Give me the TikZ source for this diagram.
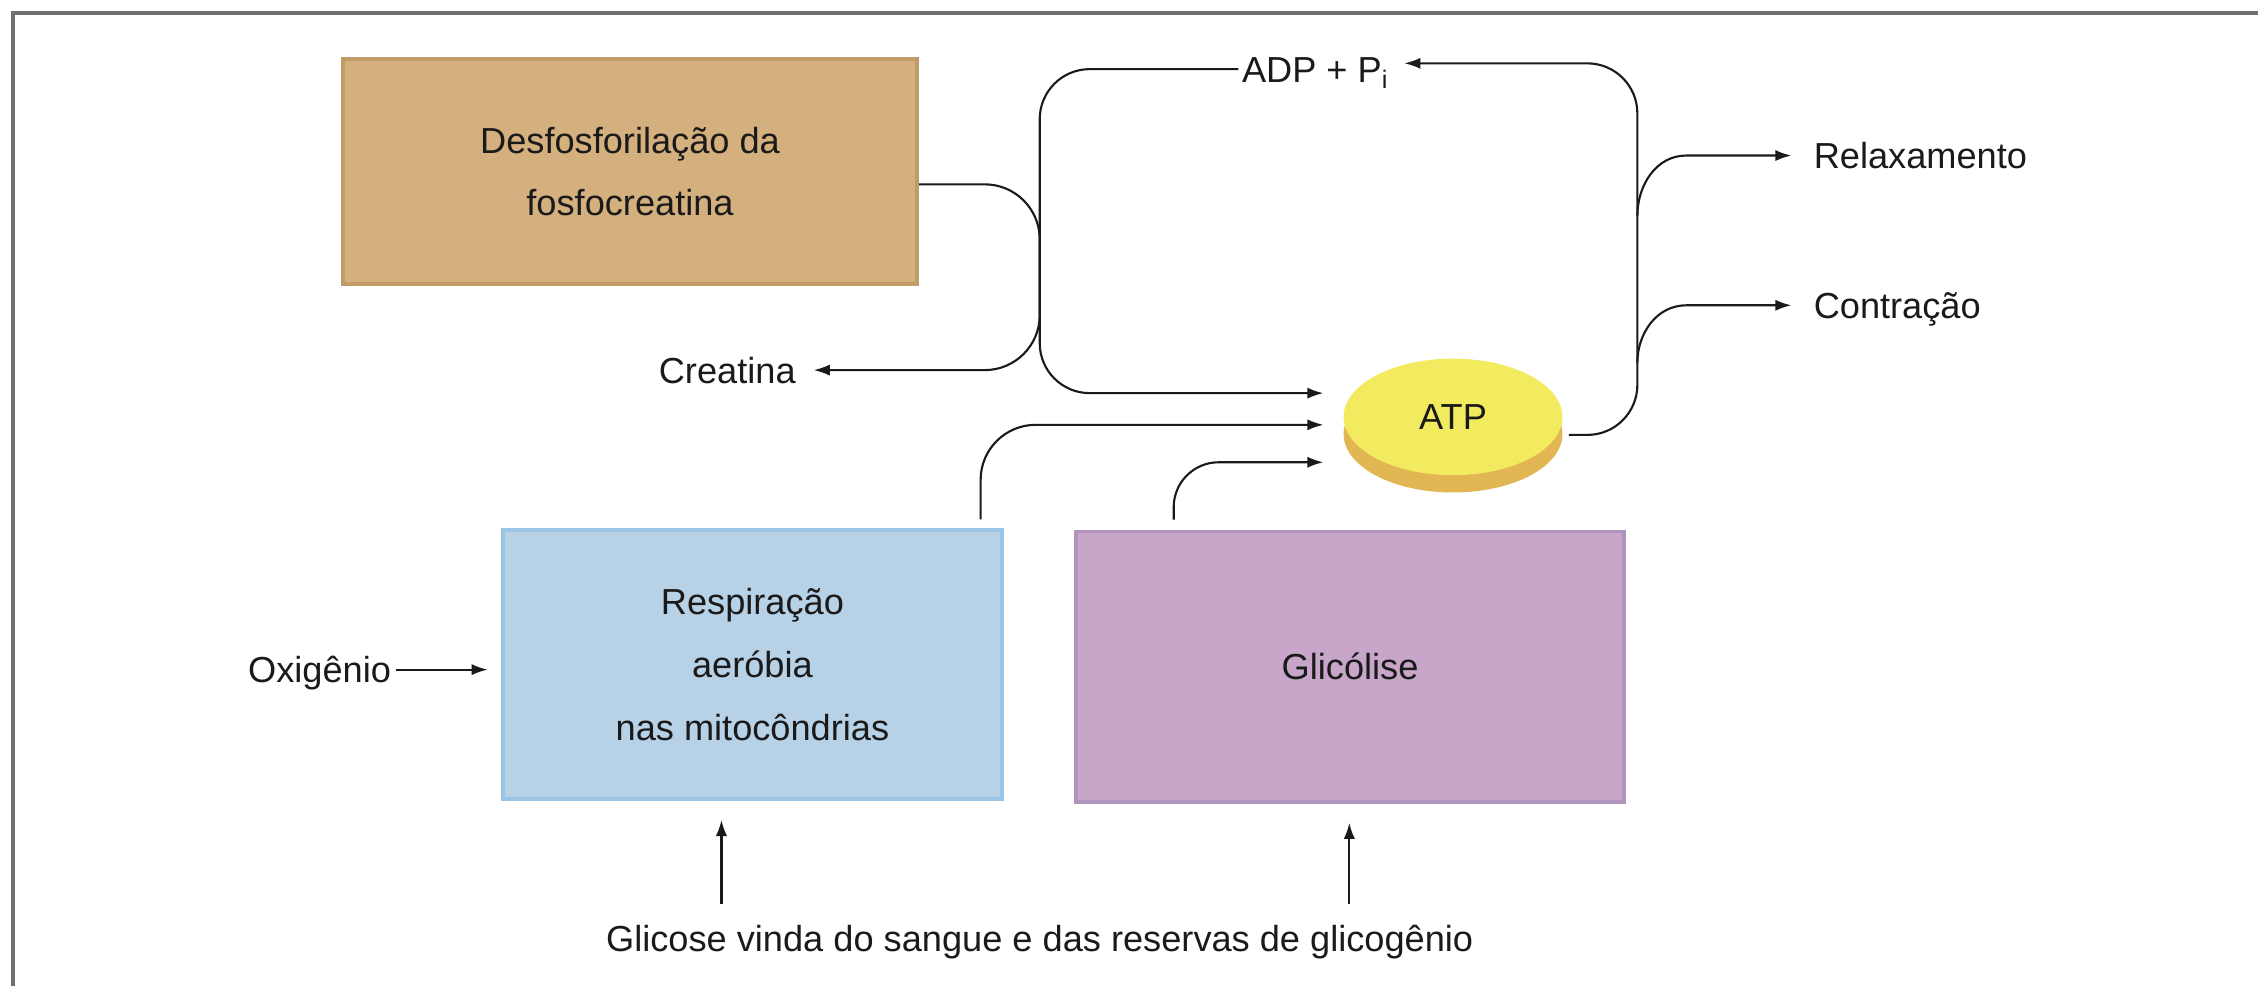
\documentclass[tikz,border=0pt]{standalone}
\usepackage{fontspec}
\setmainfont{Liberation Sans}
\usetikzlibrary{shapes.geometric,arrows.meta,shadows}
\definecolor{brownfill}{HTML}{D3B07E}
\definecolor{browndraw}{HTML}{C29C68}
\definecolor{bluefill}{HTML}{B7D1E6}
\definecolor{bluedraw}{HTML}{9CC4E4}
\definecolor{purpfill}{HTML}{C8A6C9}
\definecolor{purpdraw}{HTML}{B194BE}
\definecolor{atptop}{HTML}{F3EB5F}
\definecolor{atpside}{HTML}{E2B652}
\definecolor{framegray}{HTML}{707070}
\definecolor{ink}{HTML}{1A1A1A}
\begin{document}
\begin{tikzpicture}[x=0.0144cm,y=-0.0144cm,
  txt/.style={font=\fontsize{10.3}{17.8}\selectfont, text=ink},
  lbl/.style={txt, inner sep=0pt, text height=7.4pt, text depth=0pt},
  procbox/.style={txt, rectangle, align=center, line width=1.1pt, inner sep=0pt},
  conn/.style={line width=0.6pt, draw=ink},
  arr/.style={conn, -{Latex[length=4.6pt,width=3.2pt]}},
]
\useasboundingbox (0,0) rectangle (1568,685);
\draw[framegray, line width=1.1pt] (9,685) -- (9,9) -- (1568,9);

% process boxes
\node[procbox, fill=brownfill, draw=browndraw, minimum width=5.746cm, minimum height=2.246cm] (desf) at (437.5,119) {Desfosforilação da\\fosfocreatina};
\node[procbox, fill=bluefill, draw=bluedraw, minimum width=4.997cm, minimum height=2.693cm] (resp) at (522.5,461.5) {Respiração\\aeróbia\\nas mitocôndrias};
\node[procbox, fill=purpfill, draw=purpdraw, minimum width=5.486cm, minimum height=2.707cm] (glic) at (937.5,463) {Glicólise};

% ATP disc
\node[txt, ellipse, fill=atptop, minimum width=2.189cm, minimum height=1.166cm, inner sep=0pt,
      general shadow={fill=atpside, shadow yshift=-0.173cm}] (atp) at (1009,289.5) {ATP};

% labels
\node[lbl, anchor=east] (creat) at (553,257) {Creatina};
\node[lbl, anchor=west] (adp) at (862,48) {ADP + P\textsubscript{i}};
\node[lbl, anchor=west] (relax) at (1259,108) {Relaxamento};
\node[lbl, anchor=west] (contr) at (1259,212) {Contração};
\node[lbl, anchor=east] (oxi) at (272,465) {Oxigênio};
\node[lbl] (glicose) at (722,652) {Glicose vinda do sangue e das reservas de glicogênio};

% free ends
\coordinate (tipA) at (919,273);
\coordinate (tipB) at (919,295);
\coordinate (tipC) at (919,321);
\coordinate (sR) at (1137,150);
\coordinate (sC) at (1137,252);
\coordinate (g1) at (501,628);
\coordinate (g2) at (937,628);

% connectors
\draw[arr, rounded corners=0.55cm, shorten >=0.173cm] ([yshift=-0.13cm]desf.east) -- (722,128) -- (722,257) -- (creat.east);
\draw[arr, rounded corners=0.5cm] ([xshift=-0.03cm]adp.west) -- (722,48) -- (722,273) -- (tipA);
\draw[arr, rounded corners=0.55cm] ([xshift=2.282cm,yshift=0.086cm]resp.north) -- (681,295) -- (tipB);
\draw[arr, rounded corners=0.45cm] ([xshift=-1.764cm,yshift=0.1cm]glic.north) -- (815,321) -- (tipC);
\draw[arr, rounded corners=0.5cm] ([xshift=0.058cm,yshift=-0.18cm]atp.east) -- (1137,302) -- (1137,44) -- ([xshift=0.144cm,yshift=0.058cm]adp.east);
\draw[arr] (sR) to[out=90,in=180] (1171,108) -- ([xshift=-0.216cm]relax.west);
\draw[arr] (sC) to[out=90,in=180] (1171,212) -- ([xshift=-0.216cm]contr.west);
\draw[arr, shorten <=0.043cm, shorten >=0.13cm] (oxi.east) -- (oxi.east -| resp.west);
\draw[arr, shorten >=0.187cm] (g1) -- (g1 |- resp.south);
\draw[arr, shorten >=0.187cm] (g2) -- (g2 |- glic.south);
\end{tikzpicture}
\end{document}
